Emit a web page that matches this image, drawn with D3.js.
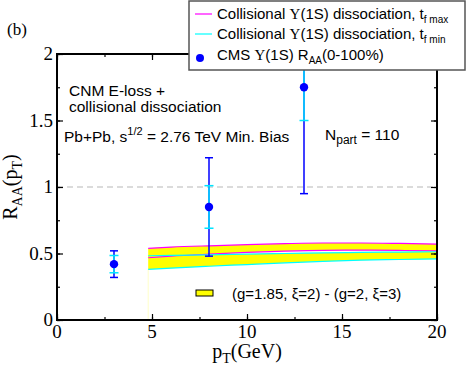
<!DOCTYPE html>
<html>
<head>
<meta charset="utf-8">
<script src="https://cdn.jsdelivr.net/npm/d3@7"></script>
<style>
  body { margin: 0; background: #fff; }
  svg text { fill: #000; }
  .sans { font-family: "Liberation Sans", Arial, sans-serif; font-size: 15px; }
</style>
</head>
<body>
<svg id="chart"></svg>
<script>
// CMS data points (pT, RAA, outer and inner error)
var cmsPt = [3, 8, 13];
var cmsRaa = [0.42, 0.85, 1.75];
var cmsErrBlue = [0.10, 0.37, 0.80];
var cmsErrCyan = [0.065, 0.16, 0.25];

// theory bands
var bandPt = [4.8, 6, 8, 10, 12, 14, 16, 18, 20];
var maxTop = [0.539, 0.548, 0.558, 0.566, 0.574, 0.579, 0.579, 0.576, 0.571];
var maxBottom = [0.468, 0.480, 0.495, 0.508, 0.518, 0.524, 0.525, 0.523, 0.519];
var minTop = [0.483, 0.486, 0.490, 0.495, 0.500, 0.504, 0.508, 0.511, 0.513];
var minBottom = [0.381, 0.390, 0.404, 0.417, 0.430, 0.441, 0.450, 0.455, 0.459];

var xTicks = [0, 5, 10, 15, 20];
var yTicks = [0, 0.5, 1, 1.5, 2];

var margin = { top: 54, right: 31, bottom: 46, left: 57 },
  width = 468 - margin.left - margin.right,
  height = 366 - margin.top - margin.bottom;

var x = d3.scaleLinear().domain([0, 20]).range([0, width]);
var y = d3.scaleLinear().domain([0, 2]).range([height, 0]);

var serif = "'Liberation Serif', 'Times New Roman', serif";

var root = d3.select("#chart").attr("width", 468).attr("height", 366);

root.append("defs").append("clipPath").attr("id", "clip")
  .append("rect").attr("width", width).attr("height", height);

var svg = root.append("g")
  .attr("transform", "translate(" + margin.left + "," + margin.top + ")");

var plot = svg.append("g").attr("clip-path", "url(#clip)");

// dashed line at RAA = 1
plot.append("line")
  .attr("x1", x(0)).attr("x2", x(20))
  .attr("y1", y(1)).attr("y2", y(1))
  .attr("stroke", "#d0d0d0").attr("stroke-width", 1.5)
  .attr("stroke-dasharray", "6,4");

function bandArea(top, bottom) {
  return d3.area()
    .x(function (d, i) { return x(bandPt[i]); })
    .y0(function (d, i) { return y(bottom[i]); })
    .y1(function (d, i) { return y(top[i]); })
    .curve(d3.curveMonotoneX)(bandPt);
}
function edge(vals) {
  return d3.line()
    .x(function (d, i) { return x(bandPt[i]); })
    .y(function (d, i) { return y(vals[i]); })
    .curve(d3.curveMonotoneX)(bandPt);
}

// faint edge left by the fill
plot.append("line")
  .attr("x1", x(bandPt[0])).attr("x2", x(bandPt[0]))
  .attr("y1", y(minBottom[0])).attr("y2", y(0))
  .attr("stroke", "#ffffc8").attr("stroke-width", 1);

plot.append("path").attr("d", bandArea(maxTop, maxBottom)).attr("fill", "#ffff00");
plot.append("path").attr("d", bandArea(minTop, minBottom)).attr("fill", "#ffff00");

[maxTop, maxBottom].forEach(function (v) {
  plot.append("path").attr("d", edge(v)).attr("fill", "none")
    .attr("stroke", "#ff00ff").attr("stroke-width", 1.2);
});
[minTop, minBottom].forEach(function (v) {
  plot.append("path").attr("d", edge(v)).attr("fill", "none")
    .attr("stroke", "#00ffff").attr("stroke-width", 1.2);
});

// error bars
function errBar(errs, color, capW) {
  cmsPt.forEach(function (p, i) {
    var lo = cmsRaa[i] - errs[i], hi = cmsRaa[i] + errs[i];
    var g = plot.append("g").attr("stroke", color).attr("stroke-width", 1.5);
    g.append("line").attr("x1", x(p)).attr("x2", x(p)).attr("y1", y(lo)).attr("y2", y(hi));
    g.append("line").attr("x1", x(p) - capW).attr("x2", x(p) + capW).attr("y1", y(lo)).attr("y2", y(lo));
    g.append("line").attr("x1", x(p) - capW).attr("x2", x(p) + capW).attr("y1", y(hi)).attr("y2", y(hi));
  });
}
errBar(cmsErrBlue, "#0000ff", 4);
errBar(cmsErrCyan, "#00e5ff", 4.5);

plot.selectAll("circle.cms").data(cmsPt).enter().append("circle")
  .attr("class", "cms")
  .attr("cx", function (d) { return x(d); })
  .attr("cy", function (d, i) { return y(cmsRaa[i]); })
  .attr("r", 4.2).attr("fill", "#0000ff");

// axes with inward ticks on all four sides
function addAxis(axis, tr) {
  var g = svg.append("g").attr("transform", tr).call(axis);
  g.select(".domain").remove();
  g.selectAll("line").attr("stroke", "#000").attr("stroke-width", 1.2);
  g.selectAll("text").remove();
  return g;
}
var xMinor = d3.range(0, 20.01, 2.5);
var yMinor = d3.range(0, 2.01, 0.25);

addAxis(d3.axisTop(x).tickValues(xMinor).tickSize(3), "translate(0," + height + ")");
addAxis(d3.axisBottom(x).tickValues(xMinor).tickSize(3), "translate(0,0)");
addAxis(d3.axisRight(y).tickValues(yMinor).tickSize(3), "translate(0,0)");
addAxis(d3.axisLeft(y).tickValues(yMinor).tickSize(3), "translate(" + width + ",0)");

addAxis(d3.axisTop(x).tickValues(xTicks).tickSize(6), "translate(0," + height + ")");
addAxis(d3.axisBottom(x).tickValues(xTicks).tickSize(6), "translate(0,0)");
addAxis(d3.axisRight(y).tickValues(yTicks).tickSize(6), "translate(0,0)");
addAxis(d3.axisLeft(y).tickValues(yTicks).tickSize(6), "translate(" + width + ",0)");

// tick labels
svg.selectAll("text.xl").data(xTicks).enter().append("text")
  .attr("class", "xl").style("font-family", serif).style("font-size", "19px")
  .attr("text-anchor", "middle")
  .attr("x", function (d) { return x(d); }).attr("y", height + 18)
  .text(function (d) { return d; });
svg.selectAll("text.yl").data(yTicks).enter().append("text")
  .attr("class", "yl").style("font-family", serif).style("font-size", "19px")
  .attr("text-anchor", "end")
  .attr("x", -4).attr("y", function (d) { return y(d) + 6; })
  .text(function (d) { return d; });

// frame
svg.append("rect").attr("width", width).attr("height", height)
  .attr("fill", "none").attr("stroke", "#000").attr("stroke-width", 2);

// axis titles
var xt = svg.append("text").style("font-family", serif).attr("text-anchor", "middle")
  .attr("x", width / 2).attr("y", height + 38).style("font-size", "20px");
xt.append("tspan").text("p");
xt.append("tspan").attr("dy", 5).style("font-size", "14px").text("T");
xt.append("tspan").attr("dy", -5).text("(GeV)");

var yt = svg.append("text").style("font-family", serif).attr("text-anchor", "middle")
  .attr("transform", "translate(" + (-40) + "," + height / 2 + ") rotate(-90)")
  .style("font-size", "20px");
yt.append("tspan").text("R");
yt.append("tspan").attr("dy", 5).style("font-size", "14px").text("AA");
yt.append("tspan").attr("dy", -5).text("(p");
yt.append("tspan").attr("dy", 5).style("font-size", "14px").text("T");
yt.append("tspan").attr("dy", -5).text(")");

root.append("text").style("font-family", serif).style("font-size", "17px")
  .attr("x", 7).attr("y", 35).text("(b)");

// annotations
svg.append("text").attr("class", "sans").style("font-size", "15.5px")
  .attr("x", 12).attr("y", 42).text("CNM E-loss +");
svg.append("text").attr("class", "sans").style("font-size", "15.5px")
  .attr("x", 12).attr("y", 58).text("collisional dissociation");

var t1 = svg.append("text").attr("class", "sans").style("font-size", "15.5px")
  .attr("x", 7).attr("y", 88);
t1.append("tspan").text("Pb+Pb, s");
t1.append("tspan").attr("dy", -7).style("font-size", "11px").text("1/2");
t1.append("tspan").attr("dy", 7).text(" = 2.76 TeV Min. Bias");

var t2 = svg.append("text").attr("class", "sans").style("font-size", "15.5px")
  .attr("x", 268).attr("y", 86);
t2.append("tspan").text("N");
t2.append("tspan").attr("dy", 4).style("font-size", "12px").text("part");
t2.append("tspan").attr("dy", -4).text(" = 110");

// band legend
svg.append("rect").attr("x", 139).attr("y", 236).attr("width", 17).attr("height", 6)
  .attr("fill", "#ffff00").attr("stroke", "#000").attr("stroke-width", 1);
svg.append("text").attr("class", "sans").attr("x", 175).attr("y", 245)
  .text("(g=1.85, \u03be=2) - (g=2, \u03be=3)");

// top legend
var leg = root.append("g");
leg.append("rect").attr("x", 189).attr("y", 1).attr("width", 276).attr("height", 69)
  .attr("fill", "#fff").attr("stroke", "#555").attr("stroke-width", 1.5);

var legRows = [
  { color: "#ff00ff", sub: "f max" },
  { color: "#00ffff", sub: "f min" }
];
legRows.forEach(function (r, i) {
  var cy = 14 + i * 20;
  leg.append("line").attr("x1", 195).attr("x2", 212).attr("y1", cy).attr("y2", cy)
    .attr("stroke", r.color).attr("stroke-width", 1.2);
  var t = leg.append("text").attr("class", "sans").attr("x", 217).attr("y", cy + 5);
  t.append("tspan").text("Collisional ");
  t.append("tspan").style("font-family", serif).text("\u03a5");
  t.append("tspan").text("(1S) dissociation, t");
  t.append("tspan").attr("dy", 4).style("font-size", "10px").text(r.sub);
});
leg.append("circle").attr("cx", 200).attr("cy", 58).attr("r", 4).attr("fill", "#0000ff");
var t3 = leg.append("text").attr("class", "sans").attr("x", 217).attr("y", 60);
t3.append("tspan").text("CMS ");
t3.append("tspan").style("font-family", serif).text("\u03a5");
t3.append("tspan").text("(1S) R");
t3.append("tspan").attr("dy", 4).style("font-size", "10px").text("AA");
t3.append("tspan").attr("dy", -4).text("(0-100%)");
</script>
</body>
</html>
